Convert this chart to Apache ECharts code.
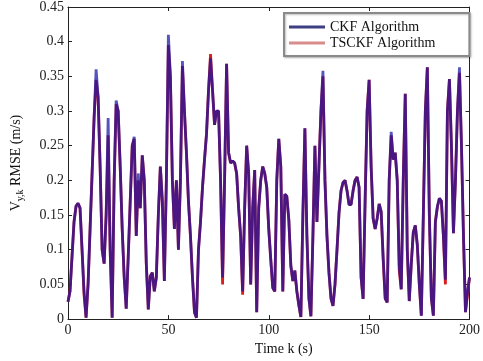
<!DOCTYPE html>
<html>
<head>
<meta charset="utf-8">
<script src="https://cdn.jsdelivr.net/npm/echarts@6/dist/echarts.min.js"></script>
<style>
html,body{margin:0;padding:0;background:#fff;}
#c{width:483px;height:361px;}
</style>
</head>
<body>
<div id="c"></div>
<script>
// Time step k = 0..200 (one sample per second)
var ckf = [
0.025,0.04,0.09,0.14,0.163,0.167,0.16,0.10,0.04,0.002,
0.05,0.13,0.21,0.29,0.36,0.32,0.22,0.10,0.08,0.15,
0.29,0.10,0.002,0.20,0.315,0.30,0.22,0.13,0.06,0.015,
0.09,0.17,0.25,0.263,0.12,0.21,0.16,0.236,0.20,0.08,
0.014,0.062,0.067,0.04,0.06,0.15,0.22,0.17,0.055,0.20,
0.41,0.35,0.20,0.13,0.20,0.10,0.20,0.372,0.30,0.24,
0.17,0.12,0.06,0.01,0.002,0.10,0.14,0.19,0.23,0.267,
0.33,0.376,0.33,0.28,0.30,0.30,0.20,0.06,0.20,0.368,
0.24,0.225,0.228,0.225,0.21,0.16,0.12,0.04,0.16,0.25,
0.21,0.05,0.16,0.215,0.01,0.16,0.20,0.22,0.21,0.19,
0.13,0.086,0.045,0.04,0.20,0.26,0.22,0.04,0.18,0.177,
0.143,0.077,0.055,0.07,0.04,0.02,0.003,0.15,0.275,0.12,
0.03,0.004,0.12,0.25,0.14,0.22,0.30,0.358,0.20,0.12,
0.067,0.03,0.019,0.05,0.10,0.153,0.185,0.197,0.20,0.185,
0.165,0.165,0.185,0.20,0.205,0.19,0.06,0.029,0.17,0.30,
0.345,0.22,0.145,0.13,0.145,0.166,0.155,0.09,0.03,0.024,
0.20,0.27,0.23,0.24,0.20,0.077,0.043,0.20,0.325,0.10,
0.026,0.08,0.125,0.135,0.107,0.05,0.005,0.15,0.30,0.363,
0.15,0.03,0.005,0.14,0.162,0.174,0.17,0.12,0.057,0.30,
0.346,0.25,0.124,0.20,0.30,0.363,0.25,0.12,0.01,0.04,
0.06
];
var tsckf = [
0.025,0.04,0.09,0.14,0.163,0.167,0.16,0.10,0.035,0.002,
0.05,0.13,0.21,0.29,0.345,0.32,0.22,0.10,0.08,0.15,
0.265,0.10,0.002,0.20,0.31,0.30,0.22,0.13,0.06,0.015,
0.09,0.17,0.25,0.26,0.12,0.20,0.16,0.236,0.20,0.08,
0.014,0.062,0.067,0.04,0.06,0.15,0.22,0.17,0.055,0.20,
0.395,0.35,0.20,0.13,0.20,0.10,0.20,0.365,0.30,0.24,
0.17,0.12,0.06,0.01,0.002,0.10,0.14,0.19,0.23,0.267,
0.33,0.382,0.33,0.28,0.30,0.30,0.20,0.05,0.20,0.368,
0.24,0.225,0.228,0.225,0.21,0.16,0.12,0.035,0.16,0.25,
0.21,0.05,0.16,0.215,0.01,0.16,0.20,0.22,0.21,0.19,
0.13,0.086,0.045,0.04,0.20,0.26,0.22,0.04,0.18,0.177,
0.143,0.077,0.055,0.07,0.04,0.02,0.003,0.15,0.275,0.12,
0.03,0.004,0.12,0.25,0.14,0.22,0.30,0.35,0.20,0.12,
0.067,0.03,0.019,0.05,0.10,0.153,0.185,0.197,0.20,0.185,
0.165,0.165,0.185,0.20,0.205,0.19,0.06,0.029,0.17,0.30,
0.345,0.22,0.145,0.13,0.145,0.166,0.155,0.085,0.03,0.024,
0.20,0.265,0.23,0.24,0.20,0.07,0.043,0.20,0.325,0.10,
0.026,0.08,0.125,0.135,0.107,0.05,0.005,0.15,0.30,0.363,
0.15,0.03,0.005,0.14,0.162,0.174,0.17,0.12,0.05,0.30,
0.346,0.25,0.124,0.20,0.30,0.355,0.25,0.12,0.01,0.035,
0.06
];
var xTicks = [0, 50, 100, 150, 200];
var seriesNames = ['CKF Algorithm', 'TSCKF Algorithm'];

function pairs(arr){ return arr.map(function(v,i){ return [i, v]; }); }

var font = 'Liberation Serif';
var axisCol = '#222';
var chart = echarts.init(document.getElementById('c'), null, {renderer:'canvas'});
var tickCommon = {show:true, inside:true, length:4, lineStyle:{color:axisCol, width:1}};
chart.setOption({
  animation:false,
  backgroundColor:'#fff',
  grid:{left:68, right:6, top:6, bottom:41, containLabel:false},
  legend:{
    orient:'vertical', left:284, top:13,
    padding:[7,34,6,5], itemGap:2, itemWidth:36, itemHeight:3,
    backgroundColor:'#fff', borderColor:'#8a8a8a', borderWidth:2,
    shadowColor:'rgba(0,0,0,0.25)', shadowBlur:2, shadowOffsetX:1, shadowOffsetY:1,
    textStyle:{fontFamily:font, fontSize:14, color:'#111', lineHeight:14},
    data:[
      {name:seriesNames[0], icon:'rect', itemStyle:{color:'#3e3e82', opacity:1}},
      {name:seriesNames[1], icon:'rect', itemStyle:{color:'#d88c8c', opacity:1}}
    ]
  },
  xAxis:[{
    type:'value', min:0, max:200, interval:50, position:'bottom',
    axisLine:{show:true, onZero:false, lineStyle:{color:axisCol, width:1}},
    axisTick:tickCommon, splitLine:{show:false},
    axisLabel:{fontFamily:font, fontSize:14, color:'#222', margin:4,
      formatter:function(v){ return xTicks.indexOf(v) >= 0 ? String(v) : ''; }},
    name:'Time k (s)', nameLocation:'middle', nameGap:19,
    nameTextStyle:{fontFamily:font, fontSize:14, color:'#111', padding:[0,0,0,30]}
  },{
    type:'value', min:0, max:200, interval:50, position:'top',
    axisLine:{show:true, onZero:false, lineStyle:{color:axisCol, width:1}},
    axisTick:tickCommon, axisLabel:{show:false}, splitLine:{show:false}
  }],
  yAxis:[{
    type:'value', min:0, max:0.45, interval:0.05, position:'left',
    axisLine:{show:true, onZero:false, lineStyle:{color:axisCol, width:1}},
    axisTick:tickCommon, splitLine:{show:false},
    axisLabel:{fontFamily:font, fontSize:14, color:'#222', margin:4},
    name:'{a|V}{b|y,k}{a| RMSE (m/s)}', nameLocation:'middle', nameGap:43, nameRotate:90,
    nameTextStyle:{
      rich:{
        a:{fontFamily:font, fontSize:14, color:'#111', lineHeight:18, verticalAlign:'middle'},
        b:{fontFamily:font, fontSize:10, color:'#111', lineHeight:18, verticalAlign:'bottom', padding:[6,0,0,0]}
      }
    }
  },{
    type:'value', min:0, max:0.45, interval:0.05, position:'right',
    axisLine:{show:true, onZero:false, lineStyle:{color:axisCol, width:1}},
    axisTick:tickCommon, axisLabel:{show:false}, splitLine:{show:false}
  }],
  series:[
    {name:seriesNames[0], type:'line', data:pairs(ckf), showSymbol:false, symbol:'none', z:3,
     lineStyle:{color:'#1414a8', width:2.8, opacity:0.72}, itemStyle:{color:'#1414a8'}},
    {name:seriesNames[1], type:'line', data:pairs(tsckf), showSymbol:false, symbol:'none', z:2,
     lineStyle:{color:'#d81e1e', width:2.8}, itemStyle:{color:'#d81e1e'}}
  ]
});
</script>
</body>
</html>
